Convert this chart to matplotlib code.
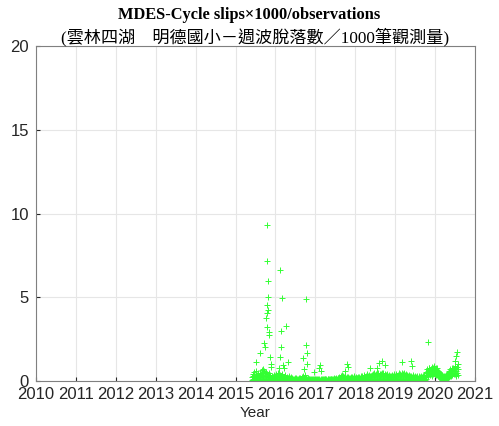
import numpy as np
import matplotlib.pyplot as plt

# weekly cycle slips per 1000 observations, first week starts 2015-05-30
start_year = 2015.41
weekly_slips = [
    0.25, 0.40, 0.30, 0.55, 0.20, 0.35, 0.60, 0.30, 0.45, 0.25, 0.50, 0.30, 0.40,
    0.35, 0.50, 0.30, 0.60, 0.45, 0.30, 0.55, 0.40, 0.25, 0.45, 0.30, 0.35, 0.20,
    0.30, 0.20, 0.25, 0.35, 0.20, 0.30, 0.40, 0.25, 0.45, 0.30, 0.50, 0.35, 0.25,
    0.30, 0.40, 0.20, 0.25, 0.35, 0.20, 0.15, 0.25, 0.20, 0.30, 0.15, 0.20, 0.25,
    0.15, 0.20, 0.10, 0.15, 0.20, 0.12, 0.18, 0.10, 0.15, 0.20, 0.12, 0.18, 0.15,
    0.20, 0.25, 0.30, 0.20, 0.35, 0.15, 0.20, 0.12, 0.18, 0.10, 0.15, 0.12, 0.10,
    0.12, 0.08, 0.15, 0.10, 0.12, 0.08, 0.10, 0.15, 0.08, 0.12, 0.10, 0.08, 0.12,
    0.10, 0.08, 0.12, 0.10, 0.15, 0.10, 0.12, 0.08, 0.10, 0.12, 0.15, 0.10, 0.12,
    0.12, 0.15, 0.10, 0.18, 0.12, 0.15, 0.20, 0.15, 0.18, 0.20, 0.25, 0.20, 0.30,
    0.25, 0.35, 0.30, 0.20, 0.25, 0.30, 0.20, 0.25, 0.20, 0.22, 0.18, 0.20, 0.25,
    0.20, 0.25, 0.20, 0.30, 0.22, 0.20, 0.25, 0.18, 0.20, 0.22, 0.25, 0.20, 0.30,
    0.25, 0.30, 0.20, 0.25, 0.35, 0.20, 0.30, 0.25, 0.40, 0.30, 0.35, 0.25, 0.30,
    0.30, 0.35, 0.40, 0.30, 0.45, 0.35, 0.40, 0.50, 0.35, 0.45, 0.30, 0.40, 0.35,
    0.40, 0.50, 0.35, 0.45, 0.30, 0.40, 0.35, 0.30, 0.40, 0.30, 0.35, 0.25, 0.30,
    0.30, 0.35, 0.25, 0.30, 0.40, 0.30, 0.35, 0.40, 0.30, 0.35, 0.45, 0.30, 0.40,
    0.35, 0.45, 0.30, 0.40, 0.50, 0.35, 0.30, 0.40, 0.35, 0.30, 0.25, 0.35, 0.30,
    0.30, 0.25, 0.35, 0.30, 0.25, 0.30, 0.20, 0.25, 0.30, 0.20, 0.25, 0.30, 0.25,
    0.30, 0.25, 0.20, 0.30, 0.35, 0.25, 0.45, 0.55, 0.70, 0.60, 0.75, 0.80, 0.65,
    0.70, 0.85, 0.60, 0.75, 0.90, 0.70, 0.80, 0.65, 0.75, 0.60, 0.50, 0.55, 0.45,
    0.40, 0.35, 0.30, 0.25, 0.30, 0.20, 0.25, 0.35, 0.40, 0.50, 0.60, 0.55, 0.70,
    0.60, 0.75, 0.65, 0.80, 0.70, 0.90, 0.75, 0.60, 0.85, 0.70,
]
# low weeks, same dates
weekly_low = [
    0.05, 0.10, 0.08, 0.12, 0.06, 0.10, 0.15, 0.08, 0.10, 0.05, 0.12, 0.08, 0.10,
    0.10, 0.12, 0.08, 0.15, 0.10, 0.06, 0.12, 0.10, 0.05, 0.10, 0.08, 0.10, 0.05,
    0.08, 0.05, 0.06, 0.10, 0.05, 0.08, 0.10, 0.06, 0.12, 0.08, 0.10, 0.08, 0.06,
    0.08, 0.10, 0.05, 0.06, 0.08, 0.05, 0.04, 0.06, 0.05, 0.08, 0.04, 0.05, 0.06,
    0.04, 0.05, 0.03, 0.04, 0.05, 0.03, 0.05, 0.03, 0.04, 0.05, 0.03, 0.05, 0.04,
    0.05, 0.06, 0.08, 0.05, 0.08, 0.04, 0.05, 0.03, 0.05, 0.03, 0.04, 0.03, 0.03,
    0.03, 0.02, 0.04, 0.03, 0.03, 0.02, 0.03, 0.04, 0.02, 0.03, 0.03, 0.02, 0.03,
    0.03, 0.02, 0.03, 0.03, 0.04, 0.03, 0.03, 0.02, 0.03, 0.03, 0.04, 0.03, 0.03,
    0.03, 0.04, 0.03, 0.05, 0.03, 0.04, 0.05, 0.04, 0.05, 0.05, 0.06, 0.05, 0.08,
    0.06, 0.08, 0.08, 0.05, 0.06, 0.08, 0.05, 0.06, 0.05, 0.06, 0.05, 0.05, 0.06,
    0.05, 0.06, 0.05, 0.08, 0.06, 0.05, 0.06, 0.05, 0.05, 0.06, 0.06, 0.05, 0.08,
    0.06, 0.08, 0.05, 0.06, 0.10, 0.05, 0.08, 0.06, 0.10, 0.08, 0.10, 0.06, 0.08,
    0.08, 0.10, 0.12, 0.08, 0.12, 0.10, 0.10, 0.15, 0.10, 0.12, 0.08, 0.10, 0.10,
    0.10, 0.15, 0.10, 0.12, 0.08, 0.10, 0.10, 0.08, 0.10, 0.08, 0.10, 0.06, 0.08,
    0.08, 0.10, 0.06, 0.08, 0.10, 0.08, 0.10, 0.10, 0.08, 0.10, 0.12, 0.08, 0.10,
    0.10, 0.12, 0.08, 0.10, 0.15, 0.10, 0.08, 0.10, 0.10, 0.08, 0.06, 0.10, 0.08,
    0.08, 0.06, 0.10, 0.08, 0.06, 0.08, 0.05, 0.06, 0.08, 0.05, 0.06, 0.08, 0.06,
    0.08, 0.06, 0.05, 0.08, 0.10, 0.06, 0.15, 0.25, 0.35, 0.30, 0.40, 0.45, 0.35,
    0.40, 0.50, 0.30, 0.40, 0.55, 0.40, 0.45, 0.35, 0.40, 0.30, 0.25, 0.25, 0.20,
    0.15, 0.12, 0.10, 0.08, 0.10, 0.06, 0.08, 0.12, 0.15, 0.20, 0.30, 0.25, 0.35,
    0.30, 0.40, 0.35, 0.45, 0.40, 0.50, 0.40, 0.30, 0.45, 0.35,
]

# isolated high weeks
spike_year = [2015.51, 2015.61, 2015.72, 2015.73, 2015.76, 2015.78, 2015.78, 2015.79,
              2015.80, 2015.80, 2015.81, 2015.82, 2015.82, 2015.83, 2015.84, 2015.86,
              2015.88, 2015.70, 2015.66, 2015.90,
              2016.12, 2016.12, 2016.13, 2016.14, 2016.17, 2016.20, 2016.27, 2016.32,
              2016.10, 2016.22,
              2016.68, 2016.77, 2016.77, 2016.78, 2016.80, 2016.97, 2017.10, 2017.12,
              2017.15, 2016.72,
              2017.75, 2017.79, 2017.82, 2018.38, 2018.60, 2018.68, 2018.75, 2018.55,
              2019.17, 2019.40, 2019.42, 2019.82, 2020.53, 2020.55, 2020.57, 2020.50]
spike_value = [1.15, 1.65, 2.29, 2.05, 3.74, 4.54, 4.04, 3.24,
               9.31, 7.18, 5.97, 5.00, 4.24, 2.95, 2.75, 1.45,
               0.85, 0.70, 0.65, 1.00,
               6.65, 1.45, 2.05, 2.99, 4.97, 0.95, 3.29, 1.15,
               0.75, 0.80,
               1.35, 4.88, 2.15, 1.00, 1.70, 0.55, 0.75, 0.95,
               0.60, 0.70,
               0.60, 1.00, 0.85, 0.80, 1.05, 1.20, 0.95, 0.75,
               1.15, 1.17, 0.90, 2.35, 1.50, 1.75, 1.00, 1.20]

week_year = start_year + np.arange(len(weekly_slips)) * 7 / 365.25

fig = plt.figure(figsize=(4.99, 4.26), dpi=100)
ax = fig.add_axes([0.072, 0.1056, 0.88, 0.7864])

mk = dict(linestyle='none', marker='+', color='#33ff33', markersize=4.5, markeredgewidth=0.7)
ax.plot(week_year, weekly_slips, **mk)
ax.plot(week_year, weekly_low, **mk)
ax.plot(spike_year, spike_value, **mk)

ax.set_xlim(2010, 2021)
ax.set_ylim(0, 20)
ax.set_xticks(range(2010, 2022))
ax.set_yticks([0, 5, 10, 15, 20])
ax.grid(True, color='#e6e6e6', linewidth=0.8)
ax.set_axisbelow(True)
ax.tick_params(direction='in', length=3, labelsize=12, colors='#262626', pad=4)
ax.tick_params(axis='y', pad=5)
for s in ax.spines.values():
    s.set_color('#808080')
    s.set_linewidth(0.8)
for lab in ax.get_xticklabels() + ax.get_yticklabels():
    lab.set_family('Liberation Sans')
ax.set_xlabel('Year', family='Liberation Sans', fontsize=11, color='#262626', labelpad=3)

fig.text(0.5, 0.965, 'MDES-Cycle slips\u00d71000/observations', ha='center', va='center',
         family='Liberation Serif', fontweight='bold', fontsize=11.8)
fig.text(0.512, 0.913, '(雲林四湖\u3000明德國小－週波脫落數／1000筆觀測量)', ha='center', va='center',
         family=['Liberation Serif', 'Noto Sans CJK TC'], fontsize=12.3)

fig.savefig('out.png', dpi=100)
